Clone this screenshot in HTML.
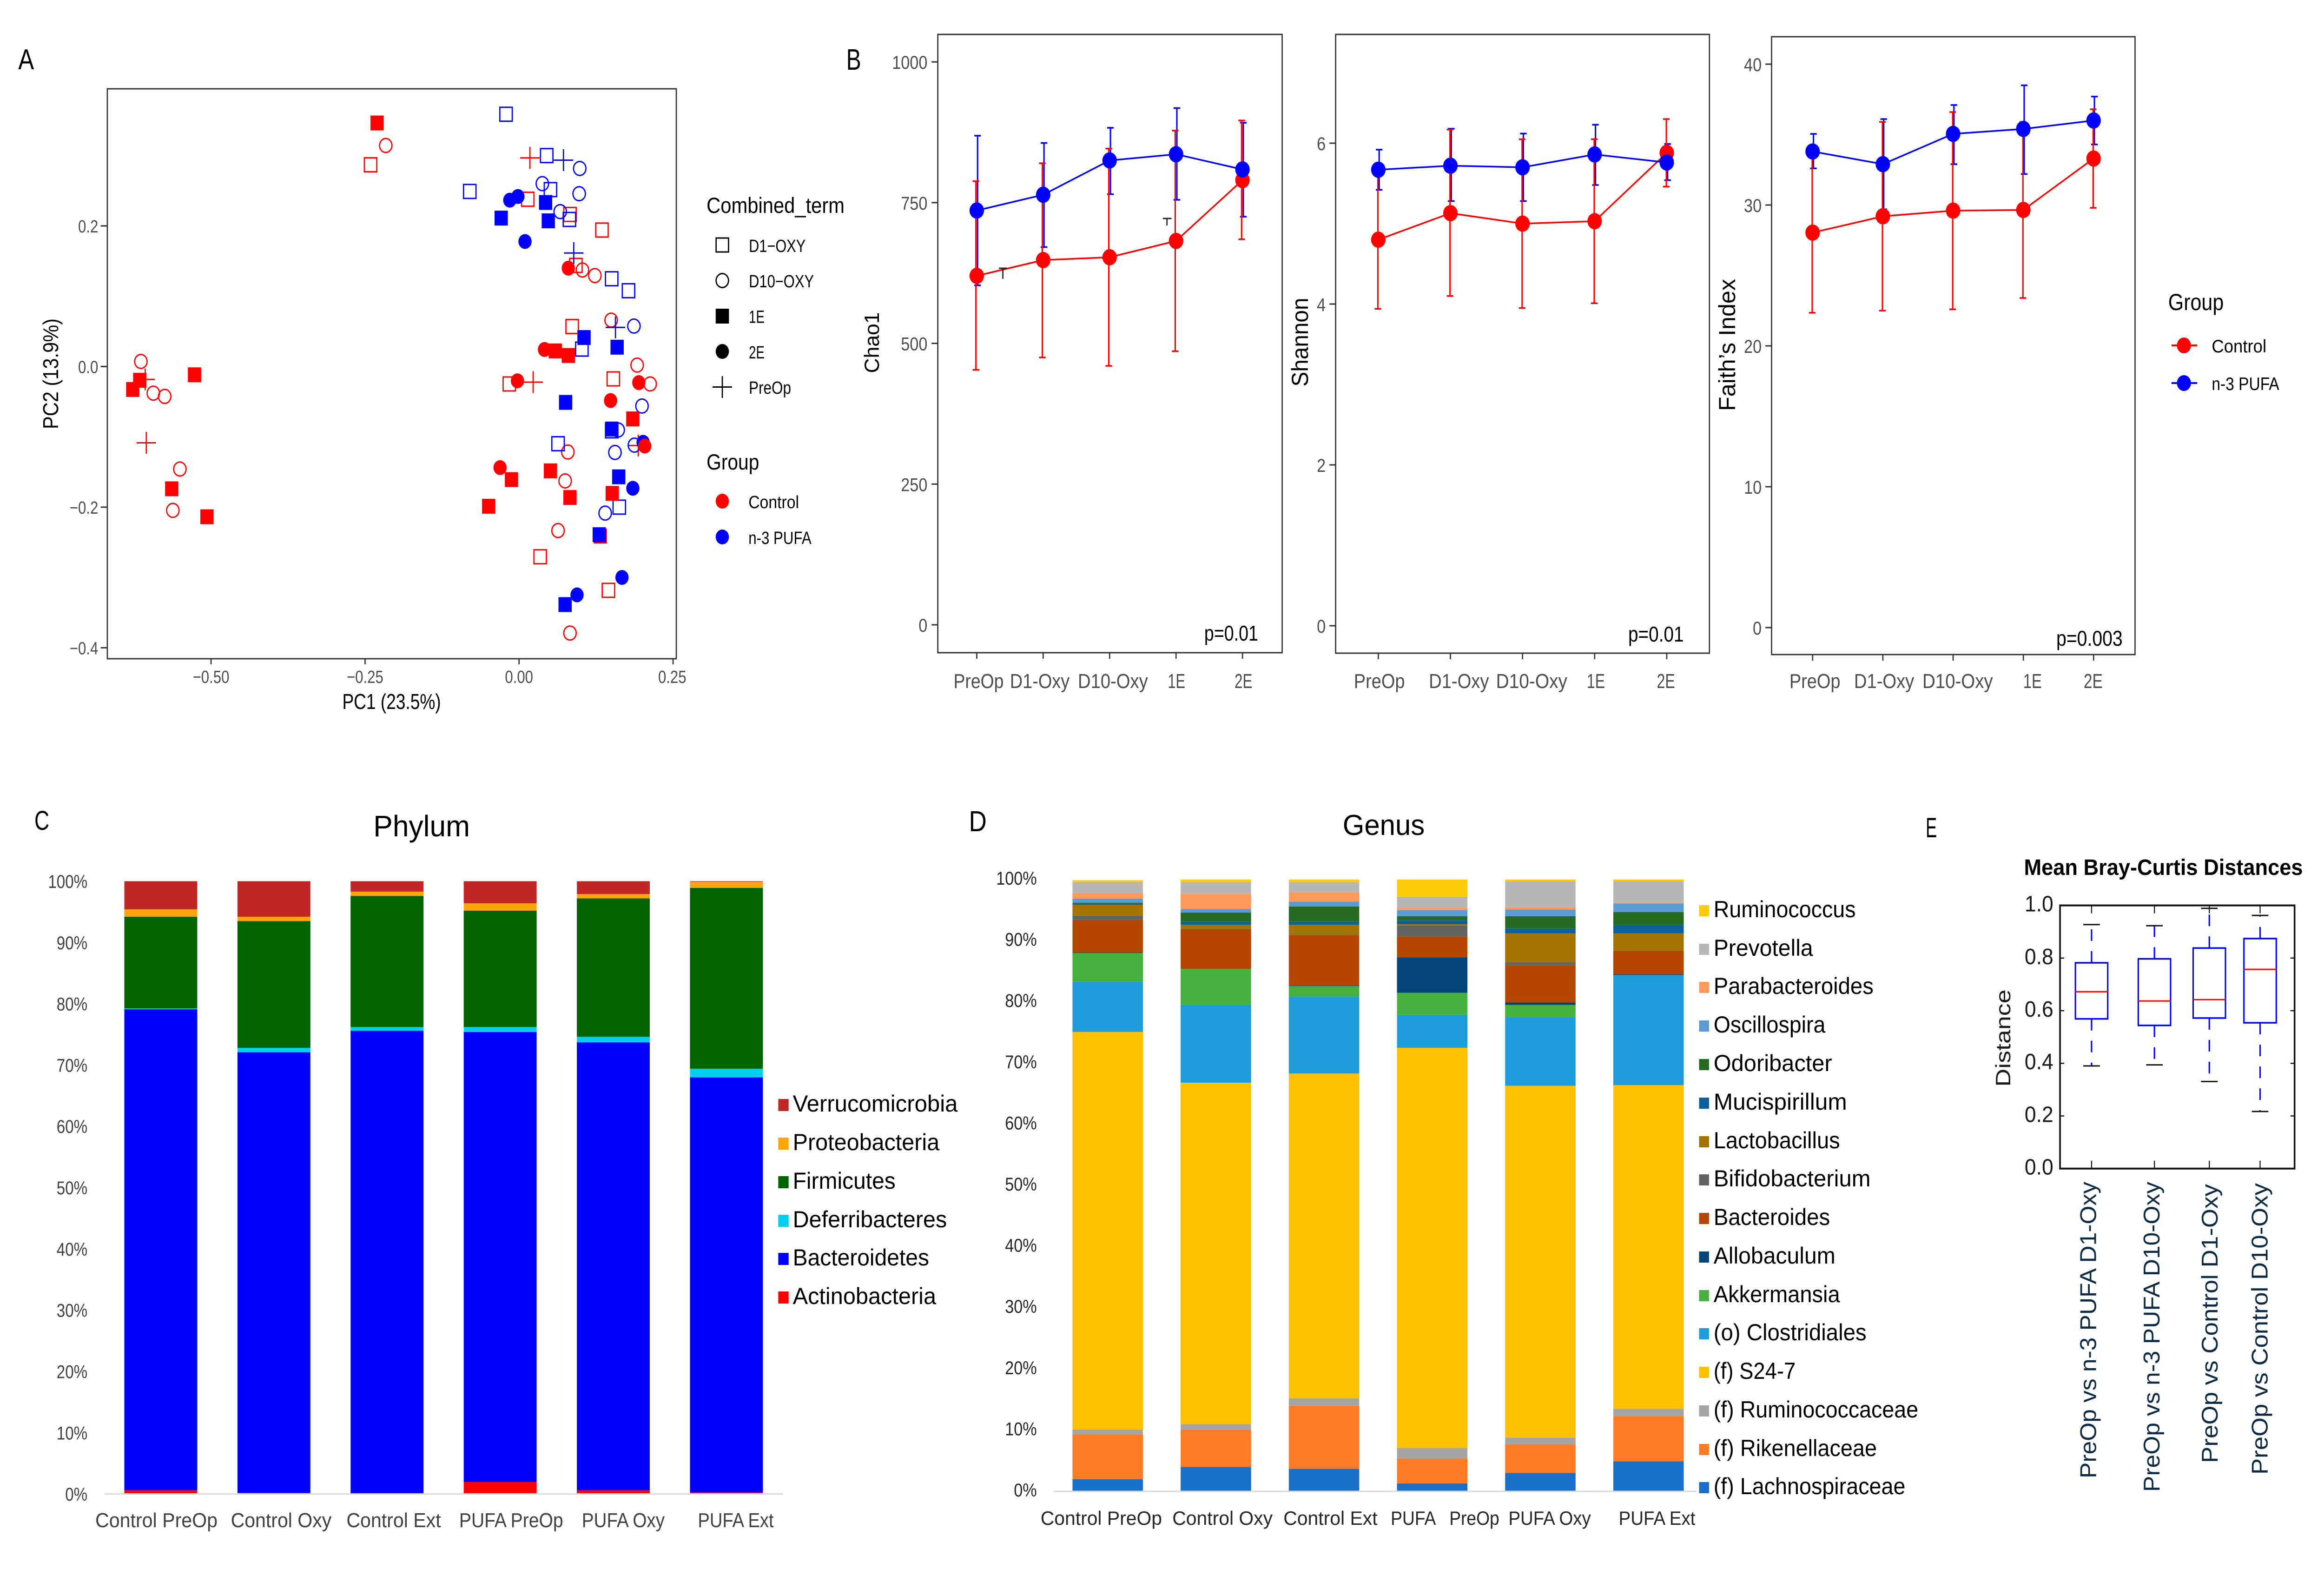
<!DOCTYPE html>
<html lang="en">
<head>
<meta charset="utf-8">
<title>Microbiome diversity and composition figure</title>
<style>
html,body{margin:0;padding:0;background:#fff;overflow:hidden;}
svg{display:block;width:100vw;max-width:5608px;height:3375px;}
text{font-family:"Liberation Sans",Arial,sans-serif;fill:#000;}
.tk{fill:#4d4d4d;}
</style>
</head>
<body>
<svg id="figure" xmlns="http://www.w3.org/2000/svg" viewBox="0 0 5608 3375" preserveAspectRatio="none">
<rect x="0" y="0" width="5608" height="3375" fill="#fff"/>

<!-- PANEL A -->
<g id="panel-a">
<text x="44" y="149" font-size="62" textLength="38">A</text>
<g id="a-marks"></g>
<rect x="259" y="191" width="1373" height="1226" fill="none" stroke="#333" stroke-width="3"/>
<g id="a-axes"></g>
<text x="826" y="1525" font-size="46" textLength="238">PC1 (23.5%)</text>
<text transform="translate(140,804) rotate(-90)" text-anchor="middle" font-size="52" textLength="238">PC2 (13.9%)</text>
<text x="1705" y="458" font-size="47" textLength="333">Combined_term</text>
<g>
<rect x="1728" y="512" width="30" height="30" fill="none" stroke="#000" stroke-width="3"/>
<text x="1807" y="542" font-size="38" textLength="137">D1−OXY</text></g>
<g>
<circle cx="1743" cy="603.5" r="15" fill="none" stroke="#000" stroke-width="3"/>
<text x="1807" y="618" font-size="38" textLength="157">D10−OXY</text></g>
<g>
<rect x="1727" y="664" width="32" height="32" fill="#000"/>
<text x="1807" y="694.5" font-size="38" textLength="38">1E</text></g>
<g>
<circle cx="1743" cy="756" r="16" fill="#000"/>
<text x="1807" y="771" font-size="38" textLength="38">2E</text></g>
<g>
<path d="M1719.500 832.500H1766.500M1743 809V856" stroke="#000" stroke-width="3" fill="none"/>
<text x="1807" y="847" font-size="38" textLength="102">PreOp</text></g>
<text x="1705" y="1010" font-size="47" textLength="127">Group</text>
<g>
<circle cx="1743" cy="1078" r="16" fill="#f00"/>
<text x="1806" y="1093" font-size="38" textLength="122">Control</text></g>
<g>
<circle cx="1743" cy="1155" r="16" fill="#00f"/>
<text x="1806" y="1170" font-size="38" textLength="152">n-3 PUFA</text></g>
</g>

<!-- PANEL B -->
<g id="panel-b">
<text x="2042" y="150" font-size="64" textLength="36">B</text>

<g id="chao-plot"></g>
<text transform="translate(2121,737) rotate(-90)" text-anchor="middle" font-size="50" textLength="131">Chao1</text>
<text x="2906" y="1378" font-size="46" textLength="130">p=0.01</text>
<g>
<text class="tk" x="2301" y="1480" font-size="44" textLength="121">PreOp</text>
<text class="tk" x="2437" y="1480" font-size="44" textLength="144">D1-Oxy</text>
<text class="tk" x="2601" y="1480" font-size="44" textLength="169">D10-Oxy</text>
<text class="tk" x="2818" y="1480" font-size="44" textLength="42">1E</text>
<text class="tk" x="2979" y="1480" font-size="44" textLength="43">2E</text>
</g>

<g id="shannon-plot"></g>
<text transform="translate(3156,736) rotate(-90)" text-anchor="middle" font-size="56" textLength="191">Shannon</text>
<text x="3929" y="1380" font-size="46" textLength="134">p=0.01</text>
<g>
<text class="tk" x="3267" y="1480" font-size="44" textLength="123">PreOp</text>
<text class="tk" x="3448" y="1480" font-size="44" textLength="145">D1-Oxy</text>
<text class="tk" x="3610" y="1480" font-size="44" textLength="172">D10-Oxy</text>
<text class="tk" x="3829" y="1480" font-size="44" textLength="44">1E</text>
<text class="tk" x="3998" y="1480" font-size="44" textLength="44">2E</text>
</g>

<g id="faith-plot"></g>
<text transform="translate(4187,742) rotate(-90)" text-anchor="middle" font-size="56" textLength="284">Faith’s Index</text>
<text x="4962" y="1389" font-size="46" textLength="160">p=0.003</text>
<g>
<text class="tk" x="4318" y="1480" font-size="44" textLength="123">PreOp</text>
<text class="tk" x="4474" y="1480" font-size="44" textLength="145">D1-Oxy</text>
<text class="tk" x="4639" y="1480" font-size="44" textLength="170">D10-Oxy</text>
<text class="tk" x="4882" y="1480" font-size="44" textLength="45">1E</text>
<text class="tk" x="5028" y="1480" font-size="44" textLength="46">2E</text>
</g>

<text x="5232" y="667" font-size="50" textLength="134">Group</text>
<g>
<line x1="5240" y1="743" x2="5302" y2="743" stroke="#f00" stroke-width="4"/>
<circle cx="5270" cy="743" r="17" fill="#f00"/>
<text x="5337" y="758" font-size="39" textLength="132">Control</text></g>
<g>
<line x1="5240" y1="824" x2="5302" y2="824" stroke="#00f" stroke-width="4"/>
<circle cx="5270" cy="824" r="17" fill="#00f"/>
<text x="5337" y="839" font-size="39" textLength="163">n-3 PUFA</text></g>
</g>

<!-- PANEL C -->
<g id="panel-c">
<text x="83" y="1785" font-size="58" textLength="36">C</text>
<text x="901" y="1799" font-size="64" textLength="233">Phylum</text>
<g id="phylum-plot"></g>
<g>
<text x="230" y="3285" font-size="44" style="fill:#404040" textLength="295">Control PreOp</text>
<text x="557" y="3285" font-size="44" style="fill:#404040" textLength="243">Control Oxy</text>
<text x="836" y="3285" font-size="44" style="fill:#404040" textLength="228">Control Ext</text>
<text x="1108" y="3285" font-size="44" style="fill:#404040" textLength="251">PUFA PreOp</text>
<text x="1404" y="3285" font-size="44" style="fill:#404040" textLength="200">PUFA Oxy</text>
<text x="1684" y="3285" font-size="44" style="fill:#404040" textLength="183">PUFA Ext</text>
</g>
<g>
<g><rect x="1878" y="2364" width="25" height="26" fill="#c12727"/><text x="1913" y="2391" font-size="50" textLength="398">Verrucomicrobia</text></g>
<g><rect x="1878" y="2447" width="25" height="26" fill="#ffa50a"/><text x="1913" y="2474" font-size="50" textLength="354">Proteobacteria</text></g>
<g><rect x="1878" y="2530" width="25" height="26" fill="#006400"/><text x="1913" y="2557" font-size="50" textLength="248">Firmicutes</text></g>
<g><rect x="1878" y="2613" width="25" height="26" fill="#00cfee"/><text x="1913" y="2640" font-size="50" textLength="372">Deferribacteres</text></g>
<g><rect x="1878" y="2695" width="25" height="26" fill="#0000ff"/><text x="1913" y="2722" font-size="50" textLength="329">Bacteroidetes</text></g>
<g><rect x="1878" y="2778" width="25" height="26" fill="#ff0000"/><text x="1913" y="2805" font-size="50" textLength="346">Actinobacteria</text></g>
</g>
</g>

<!-- PANEL D -->
<g id="panel-d">
<text x="2338" y="1788" font-size="62" textLength="43">D</text>
<text x="3240" y="1796" font-size="62" textLength="198">Genus</text>
<g id="genus-plot"></g>
<g>
<text x="2511" y="3280" font-size="42" style="fill:#262626" textLength="293">Control PreOp</text>
<text x="2829" y="3280" font-size="42" style="fill:#262626" textLength="242">Control Oxy</text>
<text x="3097" y="3280" font-size="42" style="fill:#262626" textLength="227">Control Ext</text>
<text x="3356" y="3280" font-size="42" style="fill:#262626;white-space:pre" textLength="262">PUFA   PreOp</text>
<text x="3640" y="3280" font-size="42" style="fill:#262626" textLength="199">PUFA Oxy</text>
<text x="3906" y="3280" font-size="42" style="fill:#262626" textLength="185">PUFA Ext</text>
</g>
<g>
<g><rect x="4100" y="1947" width="24" height="24" fill="#ffcb0a"/><text x="4135" y="1973" font-size="50" textLength="343">Ruminococcus</text></g>
<g><rect x="4100" y="2030" width="24" height="24" fill="#b7b7b7"/><text x="4135" y="2056" font-size="50" textLength="240">Prevotella</text></g>
<g><rect x="4100" y="2112" width="24" height="24" fill="#ff9a5a"/><text x="4135" y="2138" font-size="50" textLength="386">Parabacteroides</text></g>
<g><rect x="4100" y="2195" width="24" height="24" fill="#5b9bd5"/><text x="4135" y="2221" font-size="50" textLength="270">Oscillospira</text></g>
<g><rect x="4100" y="2278" width="24" height="24" fill="#266b23"/><text x="4135" y="2304" font-size="50" textLength="286">Odoribacter</text></g>
<g><rect x="4100" y="2361" width="24" height="24" fill="#0a609f"/><text x="4135" y="2387" font-size="50" textLength="322">Mucispirillum</text></g>
<g><rect x="4100" y="2444" width="24" height="24" fill="#a57300"/><text x="4135" y="2470" font-size="50" textLength="305">Lactobacillus</text></g>
<g><rect x="4100" y="2526" width="24" height="24" fill="#636363"/><text x="4135" y="2552" font-size="50" textLength="379">Bifidobacterium</text></g>
<g><rect x="4100" y="2609" width="24" height="24" fill="#b54600"/><text x="4135" y="2635" font-size="50" textLength="281">Bacteroides</text></g>
<g><rect x="4100" y="2692" width="24" height="24" fill="#034479"/><text x="4135" y="2718" font-size="50" textLength="294">Allobaculum</text></g>
<g><rect x="4100" y="2775" width="24" height="24" fill="#46b13d"/><text x="4135" y="2801" font-size="50" textLength="305">Akkermansia</text></g>
<g><rect x="4100" y="2857" width="24" height="24" fill="#1e9cda"/><text x="4135" y="2883" font-size="50" textLength="369">(o) Clostridiales</text></g>
<g><rect x="4100" y="2940" width="24" height="24" fill="#ffc000"/><text x="4135" y="2966" font-size="50" textLength="198">(f) S24-7</text></g>
<g><rect x="4100" y="3023" width="24" height="24" fill="#a5a5a5"/><text x="4135" y="3049" font-size="50" textLength="494">(f) Ruminococcaceae</text></g>
<g><rect x="4100" y="3106" width="24" height="24" fill="#ff7c24"/><text x="4135" y="3132" font-size="50" textLength="394">(f) Rikenellaceae</text></g>
<g><rect x="4100" y="3188" width="24" height="24" fill="#1a70c8"/><text x="4135" y="3214" font-size="50" textLength="463">(f) Lachnospiraceae</text></g>
</g>
</g>

<!-- PANEL E -->
<g id="panel-e">
<text x="4647" y="1801" font-size="60" textLength="27">E</text>
<text x="4884" y="1882" font-size="48" font-weight="bold" textLength="673">Mean Bray-Curtis Distances</text>
<g id="box-plot"></g>
<text style="fill:#1a1a1a" transform="translate(4851,2233) rotate(-90)" text-anchor="middle" font-size="50" textLength="209">Distance</text>
<g>
<text style="fill:#0c2a44" transform="translate(5058,3180) rotate(-90)" font-size="55" textLength="638">PreOp vs n-3 PUFA D1-Oxy</text>
<text style="fill:#0c2a44" transform="translate(5211,3209) rotate(-90)" font-size="55" textLength="667">PreOp vs n-3 PUFA D10-Oxy</text>
<text style="fill:#0c2a44" transform="translate(5351,3147) rotate(-90)" font-size="55" textLength="600">PreOp vs Control D1-Oxy</text>
<text style="fill:#0c2a44" transform="translate(5472,3172) rotate(-90)" font-size="55" textLength="627">PreOp vs Control D10-Oxy</text>
</g>
</g>
</svg>

<script>
/* ---------- Panel A data: [PC1, PC2] ---------- */
var controlD1 = [[-0.241,0.2869],[0.0141,0.2379],[0.0827,0.2163],[0.1346,0.1941],[0.0923,0.1438],[0.0862,0.0569],[0.153,-0.0176],[-0.0158,-0.0248],[0.0343,-0.2706],[0.1451,-0.3183]];
var controlD10 = [[-0.2164,0.3144],[0.1029,0.1373],[0.1231,0.1294],[0.1495,0.066],[0.1917,0.002],[0.2128,-0.0248],[-0.6139,0.0072],[-0.5937,-0.0379],[-0.5752,-0.0425],[-0.5506,-0.1458],[-0.562,-0.2046],[0.0792,-0.1216],[0.0748,-0.1627],[0.0633,-0.2333],[0.0827,-0.3791]];
var controlPreOp = [[0.0176,0.2967],[0.0229,-0.0222],[-0.6051,-0.1085],[0.1935,-0.1124],[-0.6069,-0.0183]];
var control1E = [[-0.2304,0.3464],[0.0589,0.0222],[0.08,0.0157],[0.1847,-0.0745],[-0.5268,-0.0118],[-0.6157,-0.0196],[-0.6271,-0.0327],[-0.5638,-0.1739],[-0.5066,-0.2137],[-0.0493,-0.1987],[-0.0123,-0.1608],[0.051,-0.1484],[0.0827,-0.1863],[0.1513,-0.1804],[0.1319,-0.2412]];
var control2E = [[0.08,0.1399],[0.0413,0.0242],[-0.0026,-0.0203],[0.1944,-0.0229],[0.1486,-0.0484],[0.204,-0.1131],[-0.0308,-0.1438]];
var pufaD1 = [[-0.0211,0.3588],[0.0449,0.3],[-0.08,0.249],[0.051,0.2516],[0.0818,0.2092],[0.1504,0.1248],[0.1777,0.1078],[0.102,0.0248],[0.1504,-0.0915],[0.0633,-0.1098],[0.1627,-0.2]];
var pufaD10 = [[0.0985,0.2817],[0.0378,0.2601],[0.0976,0.2458],[0.0668,0.2203],[0.1865,0.0575],[0.1996,-0.0562],[0.1609,-0.0902],[0.1873,-0.1118],[0.1557,-0.1222],[0.1398,-0.2085]];
var pufaPreOp = [[0.0721,0.2935],[0.0888,0.1614],[0.1565,0.0556]];
var pufa1E = [[0.0431,0.2333],[-0.029,0.2111],[0.0475,0.2072],[0.1055,0.0412],[0.1592,0.0275],[0.0756,-0.051],[0.1504,-0.0889],[0.1618,-0.1569],[0.1302,-0.2392],[0.0748,-0.3386]];
var pufa2E = [[-0.015,0.2366],[-0.0018,0.2418],[0.0097,0.1778],[0.2014,-0.1078],[0.1847,-0.1732],[0.0941,-0.3248],[0.1671,-0.3]];
var pcoaXTicks = [-0.5,-0.25,0,0.25];
var pcoaXTickLabels = ["−0.50","−0.25","0.00","0.25"];
var pcoaYTicks = [0.2,0,-0.2,-0.4];
var pcoaYTickLabels = ["0.2","0.0","−0.2","−0.4"];

/* ---------- Panel B data ---------- */
var timepoints = ["PreOp","D1-Oxy","D10-Oxy","1E","2E"];
var chaoControlMean = [620,648,653,682,790];
var chaoControlUpper = [788,820,846,878,896];
var chaoControlLower = [453,475,460,486,685];
var chaoPufaMean = [736,764,825,836,809];
var chaoPufaUpper = [869,856,883,918,892];
var chaoPufaLower = [603,671,765,755,725];
var chaoTicks = [0,250,500,750,1000];
var shannonControlMean = [4.8,5.13,5.0,5.03,5.88];
var shannonControlUpper = [5.67,6.17,6.05,6.05,6.3];
var shannonControlLower = [3.94,4.1,3.95,4.01,5.46];
var shannonPufaMean = [5.67,5.72,5.7,5.86,5.76];
var shannonPufaUpper = [5.92,6.18,6.12,6.23,5.99];
var shannonPufaLower = [5.42,5.28,5.28,5.48,5.54];
var shannonTicks = [0,2,4,6];
var faithControlMean = [28.04,29.2,29.6,29.65,33.3];
var faithControlUpper = [33.7,35.9,36.6,35.9,36.8];
var faithControlLower = [22.35,22.5,22.6,23.4,29.8];
var faithPufaMean = [33.8,32.9,35.05,35.4,36.0];
var faithPufaUpper = [35.05,36.1,37.1,38.5,37.7];
var faithPufaLower = [32.6,29.7,32.9,32.2,34.3];
var faithTicks = [0,10,20,30,40];

/* ---------- Panel C data (percent per bar) ---------- */
var compositionGroups = ["Control PreOp","Control Oxy","Control Ext","PUFA PreOp","PUFA Oxy","PUFA Ext"];
var percentTicks = [0,10,20,30,40,50,60,70,80,90,100];
var percentTickLabels = ["0%","10%","20%","30%","40%","50%","60%","70%","80%","90%","100%"];
var actinobacteria = [0.6,0.2,0.1,1.95,0.6,0.25];
var bacteroidetes = [78.5,71.9,75.5,73.45,73.1,67.75];
var deferribacteres = [0.15,0.7,0.6,0.8,0.9,1.4];
var firmicutes = [14.95,20.7,21.4,19.0,22.6,29.5];
var proteobacteria = [1.2,0.7,0.7,1.2,0.7,1.0];
var verrucomicrobia = [4.6,5.8,1.7,3.6,2.1,0.1];

/* ---------- Panel D data (percent per bar) ---------- */
var lachnospiraceae = [2.0,4.0,3.7,1.3,3.0,4.9];
var rikenellaceae = [7.3,6.1,10.3,4.1,4.7,7.4];
var ruminococcaceae = [0.8,0.9,1.2,1.7,1.1,1.2];
var s247 = [65.0,55.8,53.1,65.4,57.5,52.9];
var clostridiales = [8.2,12.7,12.6,5.4,11.2,18.0];
var akkermansia = [4.7,5.9,1.7,3.6,2.0,0];
var allobaculum = [0.1,0,0.1,5.8,0.4,0.1];
var bacteroides = [5.3,6.5,8.2,3.4,6.1,3.8];
var bifidobacterium = [0.7,0.1,0.1,1.8,0.5,0.1];
var lactobacillus = [1.8,0.6,1.6,0.2,4.7,2.8];
var mucispirillum = [0.2,0.5,0.5,0.6,0.8,1.4];
var odoribacter = [0.1,1.5,2.5,0.7,2.0,2.1];
var oscillospira = [0.7,0.6,0.8,1.0,1.1,1.4];
var parabacteroides = [0.9,2.5,1.5,0.4,0.4,0.1];
var prevotella = [1.8,1.9,1.7,1.8,4.2,3.5];
var ruminococcus = [0.3,0.4,0.4,2.8,0.3,0.3];

/* ---------- Panel E data ---------- */
var distanceTicks = [0,0.2,0.4,0.6,0.8,1.0];
var distanceTickLabels = ["0.0","0.2","0.4","0.6","0.8","1.0"];
var whiskerHigh = [0.927,0.923,0.989,0.962];
var quartile3 = [0.782,0.797,0.838,0.874];
var medians = [0.672,0.637,0.642,0.757];
var quartile1 = [0.569,0.544,0.572,0.554];
var whiskerLow = [0.39,0.394,0.331,0.217];

/* ---------- helpers ---------- */
var NS = 'http://www.w3.org/2000/svg';
function mk(parent, tag, attrs) {
  var e = document.createElementNS(NS, tag);
  for (var k in attrs) e.setAttribute(k, attrs[k]);
  parent.appendChild(e);
  return e;
}
function label(parent, x, y, str, size, squeeze, fill, anchor) {
  var t = mk(parent, 'text', {x: x, y: y, 'font-size': size, 'text-anchor': anchor});
  t.style.fill = fill;
  t.textContent = str;
  t.setAttribute('textLength', (t.getComputedTextLength() * squeeze).toFixed(1));
  return t;
}

/* ---------- Panel A ---------- */
function xPc1(v) { return 1252.5 + v * 1486.5; }
function yPc2(v) { return 788.4 - v * 1512.4; }
var aMarks = document.getElementById('a-marks');
function drawOpenSquares(points, color, name) {
  points.forEach(function (p) {
    var m = mk(aMarks, 'rect', {x: xPc1(p[0]) - 15, y: yPc2(p[1]) - 15, width: 30, height: 30, fill: 'none', stroke: color, 'stroke-width': 3});
    
    
  });
}
function drawOpenCircles(points, color, name) {
  points.forEach(function (p) {
    var m = mk(aMarks, 'circle', {cx: xPc1(p[0]), cy: yPc2(p[1]), r: 15, fill: 'none', stroke: color, 'stroke-width': 3});
    
    
  });
}
function drawFilledSquares(points, color, name) {
  points.forEach(function (p) {
    var m = mk(aMarks, 'rect', {x: xPc1(p[0]) - 16, y: yPc2(p[1]) - 16, width: 32, height: 32, fill: color});
    
    
  });
}
function drawFilledCircles(points, color, name) {
  points.forEach(function (p) {
    var m = mk(aMarks, 'circle', {cx: xPc1(p[0]), cy: yPc2(p[1]), r: 16, fill: color});
    
    
  });
}
function drawPluses(points, color, name) {
  points.forEach(function (p) {
    var x = xPc1(p[0]), y = yPc2(p[1]);
    var m = mk(aMarks, 'path', {d: 'M' + (x - 23.5) + ' ' + y + 'H' + (x + 23.5) + 'M' + x + ' ' + (y - 23.5) + 'V' + (y + 23.5), fill: 'none', stroke: color, 'stroke-width': 3});
    
    
  });
}
drawOpenSquares(controlD1, '#f00', 'point-control-d1-oxy');
drawOpenCircles(controlD10, '#f00', 'point-control-d10-oxy');
drawPluses(controlPreOp, '#f00', 'point-control-preop');
drawOpenSquares(pufaD1, '#00f', 'point-pufa-d1-oxy');
drawOpenCircles(pufaD10, '#00f', 'point-pufa-d10-oxy');
drawPluses(pufaPreOp, '#00f', 'point-pufa-preop');
drawFilledSquares(control1E, '#f00', 'point-control-1e');
drawFilledSquares(pufa1E, '#00f', 'point-pufa-1e');
drawFilledCircles(pufa2E, '#00f', 'point-pufa-2e');
drawFilledCircles(control2E, '#f00', 'point-control-2e');

var aAxes = document.getElementById('a-axes');
pcoaXTicks.forEach(function (v, i) {
  var x = xPc1(v);
  var tick = mk(aAxes, 'line', {x1: x, y1: 1417, x2: x, y2: 1429, stroke: '#333', 'stroke-width': 3});
  
  
  var lab = label(aAxes, x + (i === 3 ? -2 : 0), 1469, pcoaXTickLabels[i], 38, 0.92, '#4d4d4d', 'middle');
  
  
});
pcoaYTicks.forEach(function (v, i) {
  var y = yPc2(v);
  var tick = mk(aAxes, 'line', {x1: 243, y1: y, x2: 259, y2: y, stroke: '#333', 'stroke-width': 3});
  
  
  var lab = label(aAxes, 237, y + 14, pcoaYTickLabels[i], 38, 0.92, '#4d4d4d', 'end');
  
  
});

/* ---------- Panel B ---------- */
function drawAlphaPlot(hostId, box, xFirst, xStep, yZero, yPerUnit, ticks, labelRight, control, pufa) {
  var g = document.getElementById(hostId);
  var xAt = function (i) { return xFirst + xStep * i; };
  var yAt = function (v) { return yZero - v * yPerUnit; };
  var frame = mk(g, 'rect', {x: box[0], y: box[1], width: box[2] - box[0], height: box[3] - box[1], fill: 'none', stroke: '#333', 'stroke-width': 3});
  
  
  ticks.forEach(function (v) {
    var y = yAt(v);
    var tick = mk(g, 'line', {x1: box[0] - 15, y1: y, x2: box[0], y2: y, stroke: '#333', 'stroke-width': 3});
    
    
    var lab = label(g, labelRight, y + 15, String(v), 40, 0.96, '#4d4d4d', 'end');
    
    
  });
  timepoints.forEach(function (name, i) {
    var tick = mk(g, 'line', {x1: xAt(i), y1: box[3], x2: xAt(i), y2: box[3] + 13, stroke: '#333', 'stroke-width': 3});
    
    
  });
  [pufa, control].forEach(function (s) {
    s.mean.forEach(function (m, i) {
      var x = xAt(i) + s.shift;
      var bar = mk(g, 'path', {d: 'M' + (x - 8) + ' ' + yAt(s.upper[i]) + 'H' + (x + 8) + 'M' + x + ' ' + yAt(s.upper[i]) + 'V' + yAt(s.lower[i]) + 'M' + (x - 8) + ' ' + yAt(s.lower[i]) + 'H' + (x + 8), fill: 'none', stroke: s.color, 'stroke-width': 3.5});
      
      
    });
  });
  [control, pufa].forEach(function (s) {
    var pts = s.mean.map(function (m, i) { return xAt(i) + ',' + yAt(m); }).join(' ');
    var line = mk(g, 'polyline', {points: pts, fill: 'none', stroke: s.color, 'stroke-width': 3.5});
    
    
    s.mean.forEach(function (m, i) {
      var dot = mk(g, 'circle', {cx: xAt(i), cy: yAt(m), r: 17.5, fill: s.color});
      
      
    });
  });
}
drawAlphaPlot('chao-plot', [2263, 74, 3094, 1404], 2357, 160.3, 1344, 1.2108, chaoTicks, 2238,
  {name: 'control', color: '#f00', shift: -2, mean: chaoControlMean, upper: chaoControlUpper, lower: chaoControlLower},
  {name: 'n3-pufa', color: '#00f', shift: 2, mean: chaoPufaMean, upper: chaoPufaUpper, lower: chaoPufaLower});
drawAlphaPlot('shannon-plot', [3223, 74, 4125, 1405], 3326, 174, 1346, 173, shannonTicks, 3199,
  {name: 'control', color: '#f00', shift: -1, mean: shannonControlMean, upper: shannonControlUpper, lower: shannonControlLower},
  {name: 'n3-pufa', color: '#00f', shift: 2, mean: shannonPufaMean, upper: shannonPufaUpper, lower: shannonPufaLower});
drawAlphaPlot('faith-plot', [4275, 79, 5152, 1408], 4374, 169.5, 1350, 30.3, faithTicks, 4251,
  {name: 'control', color: '#f00', shift: -1, mean: faithControlMean, upper: faithControlUpper, lower: faithControlLower},
  {name: 'n3-pufa', color: '#00f', shift: 2, mean: faithPufaMean, upper: faithPufaUpper, lower: faithPufaLower});
/* stray annotation marks on the Chao1 plot */
var chaoHost = document.getElementById('chao-plot');
var stray1 = mk(chaoHost, 'path', {d: 'M2410.500 577H2430M2420 577V600', fill: 'none', stroke: '#222', 'stroke-width': 3});


var stray2 = mk(chaoHost, 'path', {d: 'M2806 470H2827M2816 470V485', fill: 'none', stroke: '#222', 'stroke-width': 3});



/* ---------- Panels C and D ---------- */
function drawStack(hostId, barFirst, barStep, barWidth, yBottom, yTop, axisLeft, axisRight, labelRight, labelDrop, labelFill, labelSqueeze, series) {
  var g = document.getElementById(hostId);
  var yAt = function (v) { return yBottom - (yBottom - yTop) * v / 100; };
  compositionGroups.forEach(function (group, i) {
    var acc = 0;
    series.forEach(function (s) {
      var v = s.values[i];
      var seg = mk(g, 'rect', {x: barFirst + barStep * i, y: yAt(acc + v), width: barWidth, height: Math.max(0, yAt(acc) - yAt(acc + v)), fill: s.color});
      
      
      acc += v;
    });
  });
  var axis = mk(g, 'line', {x1: axisLeft, y1: yBottom, x2: axisRight, y2: yBottom, stroke: '#d9d9d9', 'stroke-width': 3});
  
  
  percentTicks.forEach(function (v, i) {
    var lab = label(g, labelRight, yAt(v) + labelDrop, percentTickLabels[i], 40, labelSqueeze, labelFill, 'end');
    
    
  });
}
drawStack('phylum-plot', 300, 273, 176, 3213.6, 1895.5, 252, 1890, 211, 14.5, '#404040', 0.93, [
  {name: 'actinobacteria', color: '#ff0000', values: actinobacteria},
  {name: 'bacteroidetes', color: '#0000ff', values: bacteroidetes},
  {name: 'deferribacteres', color: '#00cfee', values: deferribacteres},
  {name: 'firmicutes', color: '#006400', values: firmicutes},
  {name: 'proteobacteria', color: '#ffa50a', values: proteobacteria},
  {name: 'verrucomicrobia', color: '#c12727', values: verrucomicrobia}
]);
drawStack('genus-plot', 2588, 261, 170, 3208, 1892, 2543, 4094, 2502, 11, '#262626', 0.96, [
  {name: 'lachnospiraceae', color: '#1a70c8', values: lachnospiraceae},
  {name: 'rikenellaceae', color: '#ff7c24', values: rikenellaceae},
  {name: 'ruminococcaceae', color: '#a5a5a5', values: ruminococcaceae},
  {name: 's24-7', color: '#ffc000', values: s247},
  {name: 'clostridiales', color: '#1e9cda', values: clostridiales},
  {name: 'akkermansia', color: '#46b13d', values: akkermansia},
  {name: 'allobaculum', color: '#034479', values: allobaculum},
  {name: 'bacteroides', color: '#b54600', values: bacteroides},
  {name: 'bifidobacterium', color: '#636363', values: bifidobacterium},
  {name: 'lactobacillus', color: '#a57300', values: lactobacillus},
  {name: 'mucispirillum', color: '#0a609f', values: mucispirillum},
  {name: 'odoribacter', color: '#266b23', values: odoribacter},
  {name: 'oscillospira', color: '#5b9bd5', values: oscillospira},
  {name: 'parabacteroides', color: '#ff9a5a', values: parabacteroides},
  {name: 'prevotella', color: '#b7b7b7', values: prevotella},
  {name: 'ruminococcus', color: '#ffcb0a', values: ruminococcus}
]);

/* ---------- Panel E ---------- */
(function () {
  var g = document.getElementById('box-plot');
  var left = 4971, right = 5537, top = 1947.6, bottom = 2513.7;
  var yAt = function (v) { return bottom - (bottom - top) * v; };
  /* layout only: horizontal slot of each box as a fraction of the frame width */
  var slot = [0.1345, 0.4025, 0.6365, 0.853];
  var xAt = function (i) { return left + (right - left) * slot[i]; };
  var boxHalf = 39;
  medians.forEach(function (med, i) {
    var x = xAt(i);
    var upper = mk(g, 'line', {x1: x, y1: yAt(quartile3[i]), x2: x, y2: yAt(whiskerHigh[i]), stroke: '#00f', 'stroke-width': 3.5, 'stroke-dasharray': '25 22'});
    
    
    var lower = mk(g, 'line', {x1: x, y1: yAt(quartile1[i]), x2: x, y2: yAt(whiskerLow[i]), stroke: '#00f', 'stroke-width': 3.5, 'stroke-dasharray': '25 22'});
    
    
    var capHigh = mk(g, 'line', {x1: x - 20, y1: yAt(whiskerHigh[i]), x2: x + 20, y2: yAt(whiskerHigh[i]), stroke: '#111', 'stroke-width': 3});
    
    
    var capLow = mk(g, 'line', {x1: x - 20, y1: yAt(whiskerLow[i]), x2: x + 20, y2: yAt(whiskerLow[i]), stroke: '#111', 'stroke-width': 3});
    
    
    var box = mk(g, 'rect', {x: x - boxHalf, y: yAt(quartile3[i]), width: boxHalf * 2, height: yAt(quartile1[i]) - yAt(quartile3[i]), fill: 'none', stroke: '#00f', 'stroke-width': 3.5});
    
    
    var medLine = mk(g, 'line', {x1: x - boxHalf, y1: yAt(med), x2: x + boxHalf, y2: yAt(med), stroke: '#f00', 'stroke-width': 3});
    
    
    var topTick = mk(g, 'line', {x1: x, y1: top, x2: x, y2: top + 17, stroke: '#111', 'stroke-width': 2.5});
    
    
    var botTick = mk(g, 'line', {x1: x, y1: bottom, x2: x, y2: bottom - 17, stroke: '#111', 'stroke-width': 2.5});
    
    
  });
  distanceTicks.forEach(function (v, i) {
    var y = yAt(v);
    var l = mk(g, 'line', {x1: left, y1: y, x2: left + 10, y2: y, stroke: '#111', 'stroke-width': 2.5});
    
    
    var r = mk(g, 'line', {x1: right - 10, y1: y, x2: right, y2: y, stroke: '#111', 'stroke-width': 2.5});
    
    
    var lab = label(g, 4955, y + 13, distanceTickLabels[i], 48, 1.04, '#1a1a1a', 'end');
    
    
  });
  var frame = mk(g, 'rect', {x: left, y: top, width: right - left, height: bottom - top, fill: 'none', stroke: '#111', 'stroke-width': 4});
  
  
})();

/* stretch every fixed-length label horizontally to its measured width */
document.querySelectorAll('text[textLength]').forEach(function (t) {
  t.setAttribute('lengthAdjust', 'spacingAndGlyphs');
});
</script>
</body>
</html>
